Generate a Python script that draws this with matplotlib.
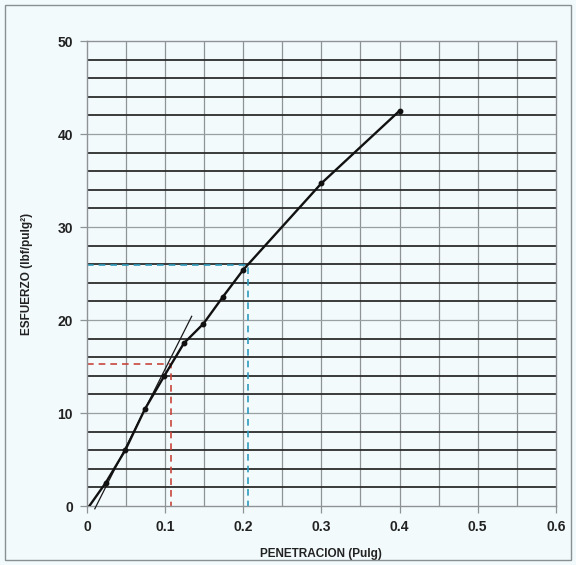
"""CBR style stress vs penetration curve (esfuerzo - penetracion)."""

import matplotlib
matplotlib.use("Agg")
import matplotlib.pyplot as plt
from matplotlib.patches import Rectangle

plt.rcParams["font.family"] = ["Liberation Sans", "DejaVu Sans"]

# curve
PENETRATION = [0.003, 0.024, 0.049, 0.074, 0.099, 0.124, 0.149, 0.174, 0.200, 0.300, 0.400]
STRESS = [0.0, 2.5, 6.0, 10.4, 14.0, 17.5, 19.6, 22.5, 25.4, 34.7, 42.5]
HAS_MARKER = [False, True, True, True, True, True, True, True, True, True, True]

# tangent used for the origin correction
TANGENT_X = [0.010, 0.134]
TANGENT_Y = [-0.3, 20.4]

# corrected readings at 0.1" and 0.2"
READ_01 = (0.107, 15.3)
READ_02 = (0.206, 25.9)

X_TICKS = [0, 0.1, 0.2, 0.3, 0.4, 0.5, 0.6]
Y_TICKS = [0, 10, 20, 30, 40, 50]

BG = "#f3fafc"


def main() -> None:
    fig = plt.figure(figsize=(5.76, 5.65), dpi=100, facecolor=BG)
    ax = fig.add_axes([0.151, 0.1044, 0.814, 0.823], facecolor=BG)

    # outer frame of the sheet
    fig.patches.append(Rectangle((0.009, 0.009), 0.982, 0.982, transform=fig.transFigure,
                                 fill=False, edgecolor="#8a8f92", linewidth=1.0))

    ax.set_xlim(0, 0.6)
    ax.set_ylim(0, 50)

    # grid: thin gray verticals, dark horizontals every 2, gray at the tens
    for i in range(1, 12):
        ax.axvline(i * 0.05, color="#8e9396", linewidth=0.9, zorder=1)
    for i in range(1, 25):
        y = i * 2
        if y % 10 == 0:
            ax.axhline(y, color="#9a9fa2", linewidth=0.9, zorder=1)
        else:
            ax.axhline(y, color="#2b2b2b", linewidth=1.3, zorder=1)

    # dashed reading guides
    ax.plot([0, READ_01[0], READ_01[0]], [READ_01[1], READ_01[1], 0],
            color="#c8463c", linestyle=(0, (4, 3)), linewidth=1.2, zorder=2)
    ax.plot([0, READ_02[0], READ_02[0]], [READ_02[1], READ_02[1], 0],
            color="#2f9bbd", linestyle=(0, (4, 3)), linewidth=1.2, zorder=2)

    ax.plot(TANGENT_X, TANGENT_Y, color="#1a1a1a", linewidth=0.9, zorder=3, clip_on=False)
    ax.plot(PENETRATION, STRESS, color="#111111", linewidth=1.7, zorder=4)
    mx = [x for x, m in zip(PENETRATION, HAS_MARKER) if m]
    my = [y for y, m in zip(STRESS, HAS_MARKER) if m]
    ax.plot(mx, my, "o", color="#111111", markersize=3.2, zorder=5)

    ax.set_xticks(X_TICKS)
    ax.set_xticklabels(["0", "0.1", "0.2", "0.3", "0.4", "0.5", "0.6"])
    ax.set_yticks(Y_TICKS)
    ax.tick_params(axis="both", length=5, width=0.9, color="#8e9396",
                   labelsize=10, labelcolor="#222222", pad=5)
    for lab in ax.get_xticklabels() + ax.get_yticklabels():
        lab.set_fontweight("bold")

    for side in ("left", "bottom", "right", "top"):
        ax.spines[side].set_color("#8e9396")
        ax.spines[side].set_linewidth(1.0)

    ax.set_xlabel("PENETRACION (Pulg)", fontsize=8.5, fontweight="bold", color="#222222", labelpad=10)
    ax.set_ylabel("ESFUERZO (lbf/pulg²)", fontsize=8.5, fontweight="bold", color="#222222", labelpad=18)

    fig.savefig("out.png", dpi=100, facecolor=BG)


if __name__ == "__main__":
    main()
